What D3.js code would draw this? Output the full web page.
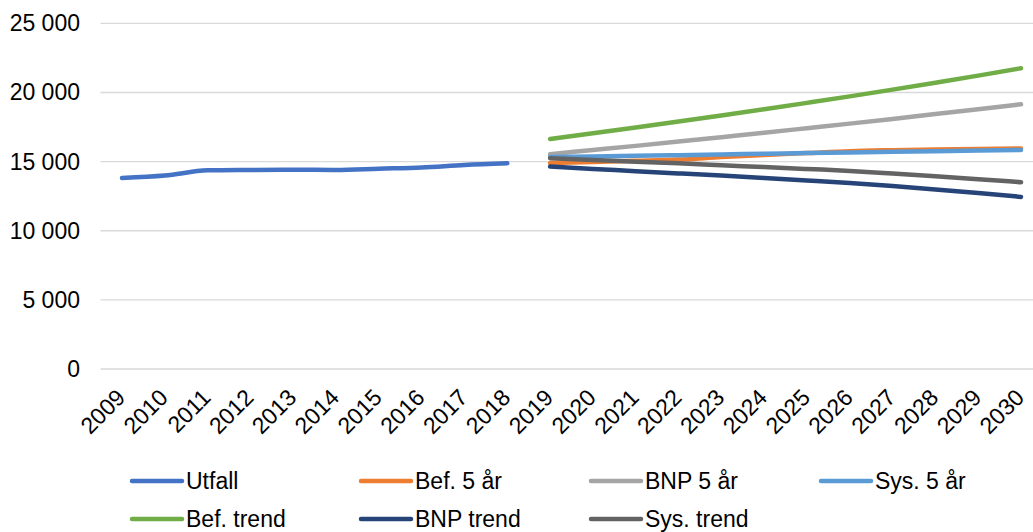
<!DOCTYPE html>
<html>
<head>
<meta charset="utf-8">
<script src="https://cdn.jsdelivr.net/npm/d3@7"></script>
<style>
  html, body { margin: 0; padding: 0; background: #fff; }
  svg { display: block; font-family: "Liberation Sans", Arial, sans-serif; }
</style>
</head>
<body>
<svg id="chart" width="1033" height="532"></svg>
<script>
// Years on the category axis
const years = [2009, 2010, 2011, 2012, 2013, 2014, 2015, 2016, 2017, 2018, 2019,
               2020, 2021, 2022, 2023, 2024, 2025, 2026, 2027, 2028, 2029, 2030];
const outcomeYears = years.slice(0, 10);
const forecastYears = years.slice(10);

// Observed values 2009–2018
const utfall = [13820, 13990, 14370, 14400, 14420, 14400, 14490, 14580, 14760, 14880];

// Projections 2019–2030
const bef5   = [14900, 14980, 15060, 15150, 15330, 15480, 15620, 15760, 15830, 15880, 15920, 15950];
const bnp5   = [15540, 15840, 16140, 16450, 16770, 17090, 17420, 17750, 18090, 18440, 18790, 19150];
const sys5   = [15330, 15380, 15420, 15470, 15520, 15570, 15620, 15670, 15720, 15760, 15810, 15850];
const befTrend = [16640, 17050, 17470, 17900, 18340, 18790, 19250, 19720, 20210, 20710, 21220, 21760];
const bnpTrend = [14640, 14470, 14310, 14150, 13990, 13820, 13640, 13450, 13230, 12990, 12730, 12450];
const sysTrend = [15250, 15120, 15000, 14880, 14740, 14610, 14470, 14330, 14140, 13940, 13730, 13510];

const yTicks = [0, 5000, 10000, 15000, 20000, 25000];

const seriesNames  = ["Utfall", "Bef. 5 år", "BNP 5 år", "Sys. 5 år", "Bef. trend", "BNP trend", "Sys. trend"];
const seriesColors = ["#4472C4", "#ED7D31", "#A5A5A5", "#5B9BD5", "#70AD47", "#264478", "#636363"];

const series = [
  { name: seriesNames[0], color: seriesColors[0], x: outcomeYears,  y: utfall },
  { name: seriesNames[1], color: seriesColors[1], x: forecastYears, y: bef5 },
  { name: seriesNames[2], color: seriesColors[2], x: forecastYears, y: bnp5 },
  { name: seriesNames[3], color: seriesColors[3], x: forecastYears, y: sys5 },
  { name: seriesNames[4], color: seriesColors[4], x: forecastYears, y: befTrend },
  { name: seriesNames[5], color: seriesColors[5], x: forecastYears, y: bnpTrend },
  { name: seriesNames[6], color: seriesColors[6], x: forecastYears, y: sysTrend }
];

const svg = d3.select("#chart");
const plot = { left: 100.6, right: 1042.4, top: 23.4, bottom: 369 };
const fontSize = 23;

const x = d3.scalePoint().domain(years).range([plot.left, plot.right]).padding(0.5);
const y = d3.scaleLinear().domain([0, 25000]).range([plot.bottom, plot.top]);

const fmt = v => d3.format(",")(v).replace(/,/g, " ");

// Horizontal gridlines
svg.append("g")
  .selectAll("line")
  .data(yTicks)
  .join("line")
  .attr("x1", plot.left).attr("x2", 1033)
  .attr("y1", d => y(d)).attr("y2", d => y(d))
  .attr("stroke", "#d9d9d9").attr("stroke-width", 1.4);

// Y axis labels
const yAxis = d3.axisLeft(y).tickValues(yTicks).tickFormat(fmt).tickSize(0).tickPadding(0);
svg.append("g")
  .attr("transform", "translate(80,0)")
  .call(yAxis)
  .call(g => g.select(".domain").remove())
  .call(g => g.selectAll("text")
    .attr("font-size", fontSize).attr("fill", "#000")
    .attr("font-family", "Liberation Sans, Arial, sans-serif"));

// X axis labels, rotated 45°
const xAxis = d3.axisBottom(x).tickSize(0).tickPadding(0);
svg.append("g")
  .attr("transform", `translate(0,${plot.bottom})`)
  .call(xAxis)
  .call(g => g.select(".domain").remove())
  .call(g => g.selectAll("text")
    .attr("font-size", fontSize).attr("fill", "#000")
    .attr("font-family", "Liberation Sans, Arial, sans-serif")
    .attr("text-anchor", "end")
    .attr("dy", null)
    .attr("x", 0)
    .attr("y", 0)
    .attr("transform", "translate(4,30) rotate(-45)"));

// Series lines
const line = d3.line()
  .x(d => x(d[0]))
  .y(d => y(d[1]))
  .curve(d3.curveMonotoneX);

svg.append("g")
  .selectAll("path")
  .data(series)
  .join("path")
  .attr("d", s => line(s.x.map((yr, i) => [yr, s.y[i]])))
  .attr("fill", "none")
  .attr("stroke", s => s.color)
  .attr("stroke-width", 4.5)
  .attr("stroke-linecap", "round")
  .attr("stroke-linejoin", "round");

// Legend
const legend = svg.append("g");
const colX = [130, 359, 589, 819];
const rowY = [481, 519];
series.forEach((s, i) => {
  const cx = colX[i % 4];
  const cy = rowY[Math.floor(i / 4)];
  const g = legend.append("g");
  g.append("line")
    .attr("x1", cx + 2).attr("x2", cx + 52)
    .attr("y1", cy).attr("y2", cy)
    .attr("stroke", s.color).attr("stroke-width", 4.5)
    .attr("stroke-linecap", "round");
  g.append("text")
    .attr("x", cx + 56).attr("y", cy)
    .attr("dy", "0.36em")
    .attr("font-size", fontSize)
    .attr("fill", "#000")
    .text(s.name);
});
</script>
</body>
</html>
